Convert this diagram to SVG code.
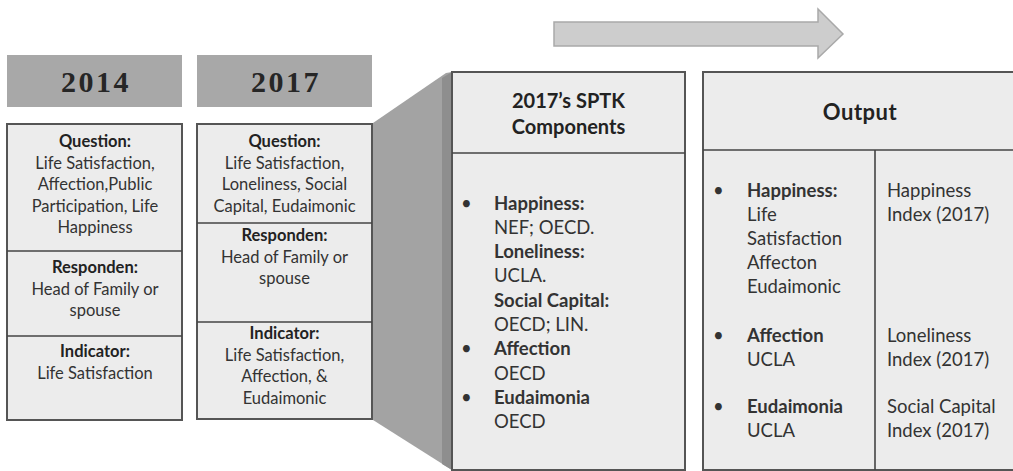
<svg xmlns="http://www.w3.org/2000/svg" width="1013" height="471" viewBox="0 0 1013 471">
<style>
.box{fill:#ececec;stroke:#555;stroke-width:2}
.hdr{fill:#a8a8a8}
.div{stroke:#444;stroke-width:1.6;fill:none}
.yr{font-family:"Liberation Serif",serif;font-weight:bold;font-size:30px;fill:#262626;text-anchor:middle;letter-spacing:2.5px}
.t{font-family:Lato,"Liberation Sans",sans-serif;font-size:16.5px;fill:#333;text-anchor:middle}
.b{font-weight:bold;fill:#222}
.l{font-family:Lato,"Liberation Sans",sans-serif;font-size:18.5px;fill:#333}
.h{font-family:Lato,"Liberation Sans",sans-serif;font-size:20px;font-weight:bold;fill:#222;text-anchor:middle}
</style>
<rect width="1013" height="471" fill="#fff"/>
<g id="flow-arrow">
<polygon points="554,22 818,22 818,9 843,34 818,58 818,46 554,46" fill="#cdcdcd" stroke="#a9a9a9" stroke-width="1.5"/>
</g>
<g id="connectors">
<polygon points="373,123 446,73 452,72 452,470 373,420" fill="#a3a3a3"/>
<polygon points="442,78 452,72 452,470 442,464" fill="#8e8e8e"/>
</g>
<g id="node-2014">
<rect class="hdr" x="7" y="55" width="175" height="52"/>
<text class="yr" x="96" y="92">2014</text>
<rect class="box" x="7" y="124" width="175" height="296"/>
<line class="div" x1="7" y1="251" x2="182" y2="251"/>
<line class="div" x1="7" y1="336" x2="182" y2="336"/>
<text class="t b" x="95" y="147">Question:</text>
<text class="t" x="95" y="168.5">Life Satisfaction,</text>
<text class="t" x="95" y="190">Affection,Public</text>
<text class="t" x="95" y="211.5">Participation, Life</text>
<text class="t" x="95" y="233">Happiness</text>
<text class="t b" x="95" y="273">Responden:</text>
<text class="t" x="95" y="294.5">Head of Family or</text>
<text class="t" x="95" y="316">spouse</text>
<text class="t b" x="95" y="357">Indicator:</text>
<text class="t" x="95" y="378.5">Life Satisfaction</text>
</g>
<g id="node-2017">
<rect class="hdr" x="197" y="55" width="175" height="52"/>
<text class="yr" x="286" y="92">2017</text>
<rect class="box" x="197" y="124" width="175" height="295"/>
<line class="div" x1="197" y1="223" x2="372" y2="223"/>
<line class="div" x1="197" y1="322" x2="372" y2="322"/>
<text class="t b" x="284.5" y="147">Question:</text>
<text class="t" x="284.5" y="168.5">Life Satisfaction,</text>
<text class="t" x="284.5" y="190">Loneliness, Social</text>
<text class="t" x="284.5" y="211.5">Capital, Eudaimonic</text>
<text class="t b" x="284.5" y="241">Responden:</text>
<text class="t" x="284.5" y="262.5">Head of Family or</text>
<text class="t" x="284.5" y="284">spouse</text>
<text class="t b" x="284.5" y="339">Indicator:</text>
<text class="t" x="284.5" y="360.5">Life Satisfaction,</text>
<text class="t" x="284.5" y="382">Affection, &amp;</text>
<text class="t" x="284.5" y="403.5">Eudaimonic</text>
</g>
<g id="node-sptk">
<rect class="box" x="452" y="72" width="233" height="398"/>
<line class="div" x1="452" y1="153" x2="685" y2="153"/>
<text class="h" x="568.5" y="108">2017’s SPTK</text>
<text class="h" x="568.5" y="134">Components</text>
<text class="l" x="461" y="209.5">•</text>
<text class="l b" x="494" y="209.5">Happiness:</text>
<text class="l" x="494" y="233.8">NEF; OECD.</text>
<text class="l b" x="494" y="258">Loneliness:</text>
<text class="l" x="494" y="282.3">UCLA.</text>
<text class="l b" x="494" y="306.6">Social Capital:</text>
<text class="l" x="494" y="331">OECD; LIN.</text>
<text class="l" x="461" y="355">•</text>
<text class="l b" x="494" y="355">Affection</text>
<text class="l" x="494" y="379.5">OECD</text>
<text class="l" x="461" y="404">•</text>
<text class="l b" x="494" y="404">Eudaimonia</text>
<text class="l" x="494" y="428">OECD</text>
</g>
<g id="node-output">
<rect class="box" x="703" y="72" width="312" height="398"/>
<line class="div" x1="703" y1="150" x2="1013" y2="150"/>
<line class="div" x1="875" y1="150" x2="875" y2="470"/>
<text class="h" x="860" y="120" style="font-size:22px;letter-spacing:0.5px">Output</text>
<text class="l" x="713" y="197">•</text>
<text class="l b" x="747" y="197">Happiness:</text>
<text class="l" x="747" y="221">Life</text>
<text class="l" x="747" y="245">Satisfaction</text>
<text class="l" x="747" y="269">Affecton</text>
<text class="l" x="747" y="293">Eudaimonic</text>
<text class="l" x="713" y="342">•</text>
<text class="l b" x="747" y="342">Affection</text>
<text class="l" x="747" y="366">UCLA</text>
<text class="l" x="713" y="413">•</text>
<text class="l b" x="747" y="413">Eudaimonia</text>
<text class="l" x="747" y="437">UCLA</text>
<text class="l" x="887" y="197">Happiness</text>
<text class="l" x="887" y="221">Index (2017)</text>
<text class="l" x="887" y="342">Loneliness</text>
<text class="l" x="887" y="366">Index (2017)</text>
<text class="l" x="887" y="413">Social Capital</text>
<text class="l" x="887" y="437">Index (2017)</text>
</g>
</svg>
